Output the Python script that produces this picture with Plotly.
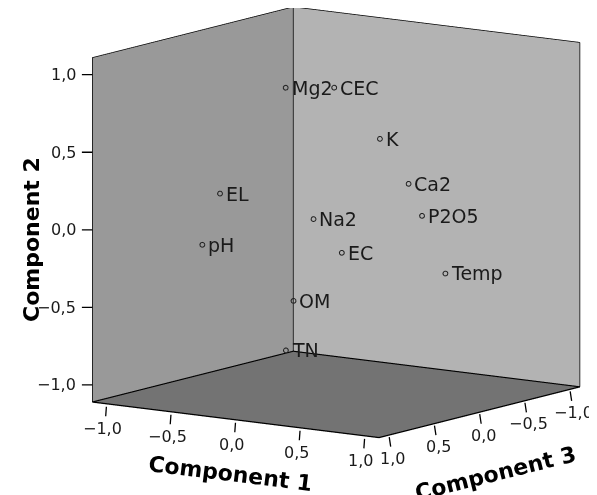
import plotly.graph_objects as go
import math

labels = ["Mg2", "CEC", "K", "Ca2", "P2O5", "Na2", "EC", "Temp", "OM", "TN", "EL", "pH"]
comp1 = [-0.35, -0.10, 0.17, 0.35, 0.44, -0.12, 0.05, 0.60, -0.17, -0.18, -0.62, -0.68]
comp2 = [0.84, 0.84, 0.52, 0.24, 0.04, 0.02, -0.19, -0.32, -0.49, -0.80, 0.18, -0.14]
comp3 = [0.06, -0.12, -0.24, -0.30, -0.32, 0.08, 0.01, -0.35, 0.23, 0.30, 0.40, 0.51]

tick_vals = [-1.0, -0.5, 0.0, 0.5, 1.0]
axis_range = [-1.11, 1.11]
axis_titles = ["Component 1", "Component 2", "Component 3"]

FONT = "DejaVu Sans, Liberation Sans, Arial"
TXT = "#1a1a1a"


def fmt(v):
    return f"{v:.1f}".replace(".", ",").replace("-", "\u2212")


tick_text = [fmt(v) for v in tick_vals]
lo, hi = axis_range

fig = go.Figure()

# box edges not drawn by the scene axes (back corner and floor outline)
N = None
fig.add_trace(go.Scatter3d(
    x=[lo, lo, N, lo, hi, hi, lo, lo],
    y=[lo, lo, N, lo, lo, hi, hi, lo],
    z=[lo, hi, N, lo, lo, lo, lo, lo],
    mode="lines", line=dict(color="black", width=2.5), hoverinfo="skip",
))

fig.add_trace(go.Scatter3d(
    x=comp3, y=comp1, z=comp2,
    mode="markers",
    text=labels,
    marker=dict(symbol="circle-open", size=3, color="#222222", line=dict(width=1, color="#222222")),
    hoverinfo="text",
))

scene_ann = []
tick_mark = dict(text="", showarrow=True, arrowhead=0, arrowwidth=1.3, arrowcolor="black")
tick_font = dict(family=FONT, size=16, color=TXT)
# point labels
for lab, a, b, cc in zip(labels, comp1, comp2, comp3):
    scene_ann.append(dict(x=cc, y=a, z=b, text=lab, showarrow=False,
                          xanchor="left", yanchor="middle", xshift=4,
                          font=dict(family=FONT, size=19, color=TXT)))
# Component 2 ticks (left front vertical edge)
for v, t in zip(tick_vals, tick_text):
    scene_ann.append(dict(x=hi, y=lo, z=v, ax=-12, ay=0, **tick_mark))
    scene_ann.append(dict(x=hi, y=lo, z=v, text=t, showarrow=False,
                          xanchor="right", yanchor="middle", xshift=-14, font=tick_font))
# Component 1 ticks (front-left bottom edge)
for v, t in zip(tick_vals, tick_text):
    scene_ann.append(dict(x=hi, y=v, z=lo, ax=-1, ay=14, standoff=3, **tick_mark))
    scene_ann.append(dict(x=hi, y=v, z=lo, text=t, showarrow=False,
                          xanchor="center", yanchor="middle", xshift=-4, yshift=-25, font=tick_font))
# Component 3 ticks (front-right bottom edge)
for v, t in zip(tick_vals, tick_text):
    scene_ann.append(dict(x=v, y=hi, z=lo, ax=2, ay=13, standoff=2, **tick_mark))
    scene_ann.append(dict(x=v, y=hi, z=lo, text=t, showarrow=False,
                          xanchor="center", yanchor="middle", xshift=4, yshift=-23, font=tick_font))


def ax(bg):
    return dict(
        title=dict(text=""),
        range=axis_range, autorange=False,
        tickvals=tick_vals, showticklabels=False,
        showgrid=False, zeroline=False,
        showbackground=True, backgroundcolor=bg,
        showline=True, linecolor="black", linewidth=1.5, mirror=True,
        ticks="", showspikes=False,
    )


phi = math.radians(10.2)
k = 2.0
dirv = (0.819, 0.574, math.tan(phi))
c = (0.0882, -0.0843, -0.1323)
eye = dict(x=c[0] + dirv[0] * k, y=c[1] + dirv[1] * k, z=c[2] + dirv[2] * k)
zoom = 1.414

title_font = dict(family=FONT, size=22, color="black", weight="bold")

fig.update_layout(
    width=597, height=495,
    margin=dict(l=0, r=0, t=0, b=0),
    paper_bgcolor="white",
    showlegend=False,
    scene=dict(
        xaxis=ax("#b3b3b3"),
        yaxis=ax("#999999"),
        zaxis=ax("#737373"),
        aspectmode="manual",
        aspectratio=dict(x=zoom, y=zoom, z=zoom),
        camera=dict(eye=eye, up=dict(x=0, y=0, z=1), center=dict(x=c[0], y=c[1], z=c[2]),
                    projection=dict(type="orthographic")),
        domain=dict(x=[0, 1], y=[0, 1]),
        annotations=scene_ann,
    ),
    annotations=[
        dict(xref="paper", yref="paper", x=23 / 597, y=1 - 232 / 495, text=axis_titles[1],
             showarrow=False, textangle=-90, xanchor="center", yanchor="middle", font=title_font),
        dict(xref="paper", yref="paper", x=222 / 597, y=1 - 465 / 495, text=axis_titles[0],
             showarrow=False, textangle=7, xanchor="center", yanchor="middle", font=title_font),
        dict(xref="paper", yref="paper", x=487 / 597, y=1 - 465 / 495, text=axis_titles[2],
             showarrow=False, textangle=-14, xanchor="center", yanchor="middle", font=title_font),
    ],
)

fig.write_html("out.html")
